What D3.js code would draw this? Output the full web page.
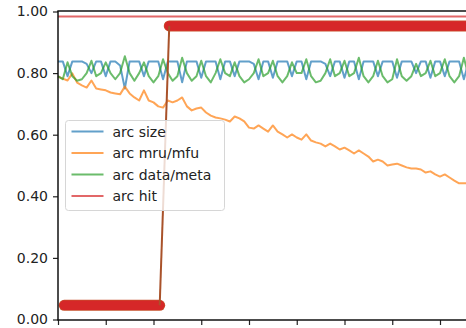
<!DOCTYPE html>
<html>
<head>
<meta charset="utf-8">
<script src="https://cdn.jsdelivr.net/npm/d3@7"></script>
<style>
  body { margin: 0; background: #fff; }
  svg { display: block; }
  text { font-family: "DejaVu Sans", sans-serif; }
</style>
</head>
<body>
<div id="canvas"></div>
<script>
// values, one entry per x step
var arcSize = [0.838,0.838,0.79,0.838,0.838,0.838,0.83,0.80,0.838,0.838,0.79,0.838,0.838,0.825,0.75,0.838,0.838,0.838,0.79,0.838,
  0.838,0.838,0.78,0.838,0.838,0.838,0.77,0.838,0.838,0.838,0.785,0.838,0.838,0.838,0.78,0.838,0.838,0.79,0.838,0.838,
  0.838,0.83,0.78,0.838,0.838,0.785,0.838,0.838,0.838,0.79,0.838,0.838,0.78,0.838,0.838,0.838,0.83,0.79,0.838,0.838,
  0.785,0.838,0.838,0.78,0.838,0.838,0.838,0.79,0.838,0.838,0.838,0.785,0.838,0.838,0.838,0.80,0.838,0.838,0.785,0.838,
  0.838,0.79,0.838,0.838,0.838,0.78,0.838,0.838,0.838,0.79,0.838];
var arcMru = [0.789,0.782,0.776,0.799,0.769,0.760,0.753,0.776,0.750,0.747,0.744,0.737,0.734,0.731,0.756,0.734,0.721,0.711,0.744,0.711,
  0.705,0.692,0.688,0.711,0.705,0.711,0.721,0.692,0.679,0.685,0.688,0.672,0.662,0.656,0.653,0.649,0.643,0.659,0.653,0.643,
  0.623,0.620,0.630,0.620,0.610,0.630,0.610,0.601,0.591,0.601,0.591,0.584,0.601,0.581,0.575,0.571,0.562,0.571,0.562,0.552,
  0.558,0.549,0.539,0.549,0.539,0.529,0.513,0.519,0.513,0.500,0.503,0.506,0.500,0.494,0.490,0.490,0.487,0.477,0.481,0.471,
  0.464,0.471,0.461,0.451,0.442,0.442,0.442,0.438,0.443,0.432,0.430];
var arcData = [0.79,0.78,0.835,0.79,0.775,0.78,0.80,0.84,0.79,0.80,0.835,0.80,0.78,0.80,0.855,0.80,0.775,0.80,0.835,0.79,
  0.77,0.79,0.845,0.80,0.775,0.79,0.85,0.80,0.775,0.79,0.84,0.79,0.77,0.80,0.845,0.80,0.79,0.835,0.79,0.77,
  0.78,0.80,0.845,0.79,0.80,0.84,0.79,0.77,0.79,0.835,0.80,0.80,0.845,0.79,0.77,0.775,0.80,0.845,0.79,0.80,
  0.84,0.79,0.80,0.85,0.79,0.77,0.79,0.84,0.79,0.77,0.78,0.845,0.79,0.775,0.79,0.83,0.79,0.80,0.84,0.79,
  0.80,0.845,0.79,0.77,0.79,0.85,0.79,0.775,0.79,0.84,0.79];
var arcHitX = [0, 100];
var arcHit = [0.984, 0.984];

// the thick hit series: low run then high run
var burstX = [1.3,2.3,3.3,4.3,5.3,6.3,7.3,8.3,9.3,10.3,11.3,12.3,13.3,14.3,15.3,16.3,17.3,18.3,19.3,20.3,21.3,
  23.3,24.3,25.3,26.3,27.3,28.3,29.3,30.3,31.3,32.3,33.3,34.3,35.3,36.3,37.3,38.3,39.3,40.3,41.3,42.3,43.3,44.3,
  45.3,46.3,47.3,48.3,49.3,50.3,51.3,52.3,53.3,54.3,55.3,56.3,57.3,58.3,59.3,60.3,61.3,62.3,63.3,64.3,65.3,66.3,
  67.3,68.3,69.3,70.3,71.3,72.3,73.3,74.3,75.3,76.3,77.3,78.3,79.3,80.3,81.3,82.3,83.3,84.3,85.3,86.3,87.3,88.3,89.3];
var burstVals = [0.046,0.046,0.046,0.046,0.046,0.046,0.046,0.046,0.046,0.046,0.046,0.046,0.046,0.046,0.046,0.046,0.046,0.046,0.046,0.046,0.046,
  0.953,0.953,0.953,0.953,0.953,0.953,0.953,0.953,0.953,0.953,0.953,0.953,0.953,0.953,0.953,0.953,0.953,0.953,0.953,0.953,0.953,0.953,
  0.953,0.953,0.953,0.953,0.953,0.953,0.953,0.953,0.953,0.953,0.953,0.953,0.953,0.953,0.953,0.953,0.953,0.953,0.953,0.953,0.953,0.953,
  0.953,0.953,0.953,0.953,0.953,0.953,0.953,0.953,0.953,0.953,0.953,0.953,0.953,0.953,0.953,0.953,0.953,0.953,0.953,0.953,0.953,0.953,0.953];

var yTicks = [0, 0.2, 0.4, 0.6, 0.8, 1.0];
var xTicks = [0,10,20,30,40,50,60,70,80,90,100];
var legendNames = ['arc size', 'arc mru/mfu', 'arc data/meta', 'arc hit'];
var legendColors = ['#1f77b4', '#ff7f0e', '#2ca02c', '#d62728'];

var W = 466, H = 328;
var svg = d3.select('#canvas').append('svg')
    .attr('width', W).attr('height', H);

var x = d3.scaleLinear().domain([0, 100]).range([58, 58 + 477.5]);
var y = d3.scaleLinear().domain([0, 1]).range([319.5, 11.5]);

var line = d3.line()
    .x(function(d){ return x(d[0]); })
    .y(function(d){ return y(d[1]); });

function pairs(xs, vs){ return vs.map(function(v, i){ return [xs[i], v]; }); }
var idx = arcSize.map(function(d, i){ return i; });

var plot = svg.append('g');

var series = [
  {vals: pairs(idx, arcSize), c: legendColors[0]},
  {vals: pairs(idx, arcMru), c: legendColors[1]},
  {vals: pairs(idx, arcData), c: legendColors[2]},
  {vals: pairs(arcHitX, arcHit), c: legendColors[3]}
];
series.forEach(function(s){
  plot.append('path')
      .attr('d', line(s.vals))
      .style('fill', 'none')
      .style('stroke', s.c)
      .style('stroke-opacity', 0.7)
      .style('stroke-width', '2px')
      .style('stroke-linejoin', 'round');
});

// legend
var lg = svg.append('g').attr('transform', 'translate(65.5,120.5)');
lg.append('rect')
    .attr('width', 159).attr('height', 90)
    .attr('rx', 3)
    .style('fill', '#fff').style('fill-opacity', 0.8)
    .style('stroke', '#d6d6d6').style('stroke-width', '1px');
legendNames.forEach(function(n, i){
  var yy = 11 + i * 21.5;
  lg.append('line')
      .attr('x1', 6).attr('x2', 38).attr('y1', yy).attr('y2', yy)
      .style('stroke', legendColors[i]).style('stroke-opacity', 0.7)
      .style('stroke-width', '2px');
  lg.append('text')
      .attr('x', 47).attr('y', yy).attr('dy', '0.36em')
      .style('font-size', '14px').style('fill', '#222')
      .text(n);
});

// thick hit series on top: a solid band per run plus the jump
var burst = pairs(burstX, burstVals);
var runs = [burst.filter(function(d){ return d[1] < 0.5; }), burst.filter(function(d){ return d[1] >= 0.5; })];
runs.forEach(function(r){
  plot.append('path')
      .attr('d', line(r))
      .style('fill', 'none')
      .style('stroke', '#c8502c')
      .style('stroke-width', '11px')
      .style('stroke-linecap', 'round');
  plot.append('path')
      .attr('d', line(r))
      .style('fill', 'none')
      .style('stroke', '#d62728')
      .style('stroke-width', '9.5px')
      .style('stroke-linecap', 'round');
});
plot.append('path')
    .attr('d', line([runs[0][runs[0].length - 1], runs[1][0]]))
    .style('fill', 'none')
    .style('stroke', '#a9522a')
    .style('stroke-width', '2px');

// axes
var yAxis = d3.axisLeft(y).tickValues(yTicks).tickFormat(d3.format('.2f')).tickSize(5).tickPadding(5);
var gy = svg.append('g').attr('transform', 'translate(58,0)').call(yAxis);
gy.select('.domain').remove();
gy.selectAll('text').style('font-size', '14px').style('fill', '#222').style('font-family', '"DejaVu Sans", sans-serif');
gy.selectAll('line').style('stroke', '#222').style('stroke-width', '1.2px');

// x tick labels sit just under the frame edge, as in the reference
var xAxis = d3.axisBottom(x).tickValues(xTicks).tickSize(5).tickPadding(5);
var gx = svg.append('g').attr('transform', 'translate(0,320)').call(xAxis);
gx.select('.domain').remove();
gx.selectAll('text').style('font-size', '14px').style('fill', '#222').style('font-family', '"DejaVu Sans", sans-serif');
gx.selectAll('line').style('stroke', '#222').style('stroke-width', '1.2px');

// spines
svg.append('line').attr('x1', 58).attr('x2', 58).attr('y1', 11).attr('y2', 320)
    .style('stroke', '#111').style('stroke-width', '1.5px');
svg.append('line').attr('x1', 57.3).attr('x2', W).attr('y1', 320).attr('y2', 320)
    .style('stroke', '#111').style('stroke-width', '1.5px');
svg.append('line').attr('x1', 57.3).attr('x2', W).attr('y1', 11).attr('y2', 11)
    .style('stroke', '#111').style('stroke-width', '1.5px');
</script>
</body>
</html>
